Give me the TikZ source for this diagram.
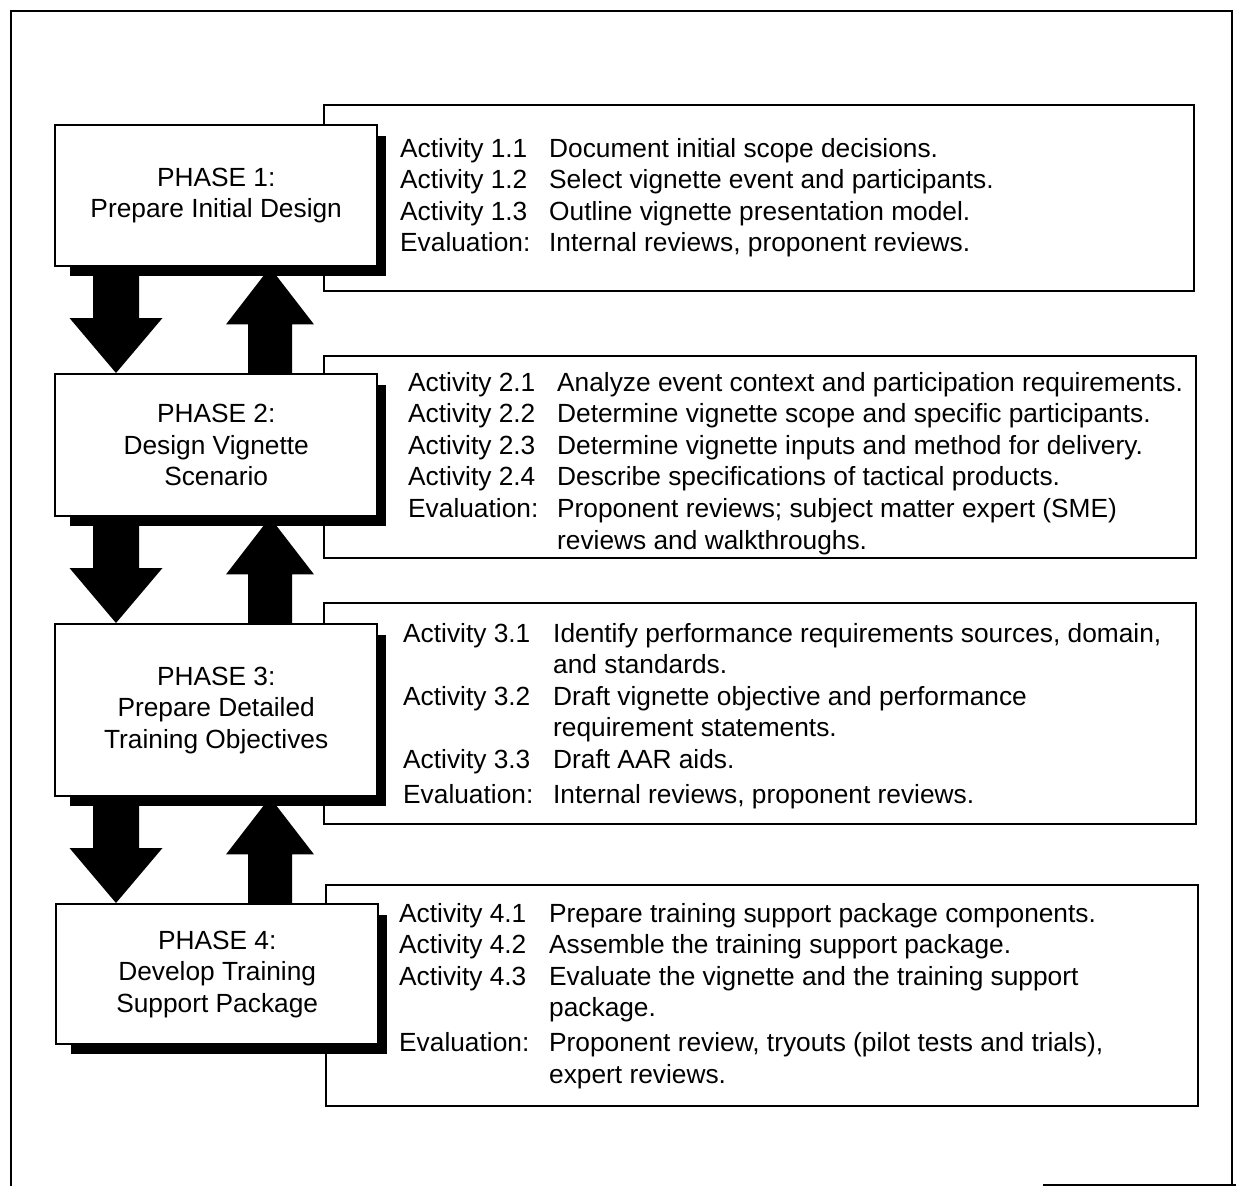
\documentclass[tikz,border=0pt]{standalone}
\usepackage{fontspec}
\setmainfont{Liberation Sans}
\usetikzlibrary{backgrounds,calc}
\tikzset{
  frame/.style={line width=2pt},
  phasebox/.style={draw, line width=2.4pt, fill=white, anchor=north west,
    minimum width=322pt, inner sep=0pt, align=center,
    font=\fontsize{26.3}{31.6}\selectfont},
  infobox/.style={draw, line width=2pt, fill=white, anchor=north west, inner sep=0pt},
  infotext/.style={anchor=base west, inner sep=0pt,
    font=\fontsize{26.3}{31.6}\selectfont},
  shadowfill/.style={fill=black},
  blockarrow/.style={fill=black}
}
\newcommand\blockdown[3]{%
  \fill[blockarrow] let \p1=(#1.south -| #3), \p2=(#2.north -| #3) in
    (\x1-23pt,\y1) -- (\x1+23pt,\y1) -- (\x1+23pt,\y2+55pt) -- (\x1+46.5pt,\y2+55pt)
    -- (\x2,\y2) -- (\x1-46.5pt,\y2+55pt) -- (\x1-23pt,\y2+55pt) -- cycle;}
\newcommand\blockup[3]{%
  \fill[blockarrow] let \p1=(#1.south -| #3), \p2=(#2.north -| #3) in
    (\x2-22pt,\y2) -- (\x2+22pt,\y2) -- (\x2+22pt,\y1-57pt) -- (\x2+44pt,\y1-57pt)
    -- (\x1,\y1) -- (\x2-44pt,\y1-57pt) -- (\x2-22pt,\y1-57pt) -- cycle;}
\newcommand\phaseshadow[1]{%
  \fill[shadowfill] ([xshift=16pt,yshift=-12pt]#1.north west) |- ([xshift=8pt,yshift=-9pt]#1.south east)
    |- cycle;}
\begin{document}
\begin{tikzpicture}[x=1pt,y=-1pt]
\useasboundingbox (0,0) rectangle (1236,1186);
% outer frame
\draw[frame] (11,1186) -- (11,11) -- (1232,11) -- (1232,1186);
\draw[frame] (1043,1185) -- (1236,1185);

% phase boxes
\node[phasebox, minimum height=141pt] (p1) at (54,124) {PHASE 1:\\Prepare Initial Design};
\node[phasebox, minimum height=142pt] (p2) at (54,373) {PHASE 2:\\Design Vignette\\Scenario};
\node[phasebox, minimum height=172pt] (p3) at (54,623) {PHASE 3:\\Prepare Detailed\\Training Objectives};
\node[phasebox, minimum height=140pt] (p4) at (55,903) {PHASE 4:\\Develop Training\\Support Package};

\begin{scope}[on background layer]
\node[infobox, minimum width=870pt, minimum height=186pt] (i1) at (323,104) {};
\node[infobox, minimum width=872pt, minimum height=202pt] (i2) at (323,355) {};
\node[infobox, minimum width=872pt, minimum height=221pt] (i3) at (323,602) {};
\node[infobox, minimum width=872pt, minimum height=221pt] (i4) at (325,884) {};
\phaseshadow{p1}
\phaseshadow{p2}
\phaseshadow{p3}
\phaseshadow{p4}
\end{scope}

\coordinate (dx) at (116,0);
\coordinate (ux) at (270,0);
\blockdown{p1}{p2}{dx}
\blockup{p1}{p2}{ux}
\blockdown{p2}{p3}{dx}
\blockup{p2}{p3}{ux}
\blockdown{p3}{p4}{dx}
\blockup{p3}{p4}{ux}

% activity texts
\node[infotext] (t1) at (400,157) {\begin{tabular}[t]{@{}p{149pt}@{}l@{}}
Activity 1.1 & Document initial scope decisions.\\
Activity 1.2 & Select vignette event and participants.\\
Activity 1.3 & Outline vignette presentation model.\\
Evaluation: & Internal reviews, proponent reviews.
\end{tabular}};
\node[infotext] (t2) at (408,391) {\begin{tabular}[t]{@{}p{149pt}@{}l@{}}
Activity 2.1 & Analyze event context and participation requirements.\\
Activity 2.2 & Determine vignette scope and specific participants.\\
Activity 2.3 & Determine vignette inputs and method for delivery.\\
Activity 2.4 & Describe specifications of tactical products.\\
Evaluation: & Proponent reviews; subject matter expert (SME)\\
 & reviews and walkthroughs.
\end{tabular}};
\node[infotext] (t3) at (403,642) {\begin{tabular}[t]{@{}p{150pt}@{}l@{}}
Activity 3.1 & Identify performance requirements sources, domain,\\
 & and standards.\\
Activity 3.2 & Draft vignette objective and performance\\
 & requirement statements.\\
Activity 3.3 & Draft AAR aids.\\[3pt]
Evaluation: & Internal reviews, proponent reviews.
\end{tabular}};
\node[infotext] (t4) at (399,922) {\begin{tabular}[t]{@{}p{150pt}@{}l@{}}
Activity 4.1 & Prepare training support package components.\\
Activity 4.2 & Assemble the training support package.\\
Activity 4.3 & Evaluate the vignette and the training support\\
 & package.\\[3pt]
Evaluation: & Proponent review, tryouts (pilot tests and trials),\\
 & expert reviews.
\end{tabular}};
\end{tikzpicture}
\end{document}
